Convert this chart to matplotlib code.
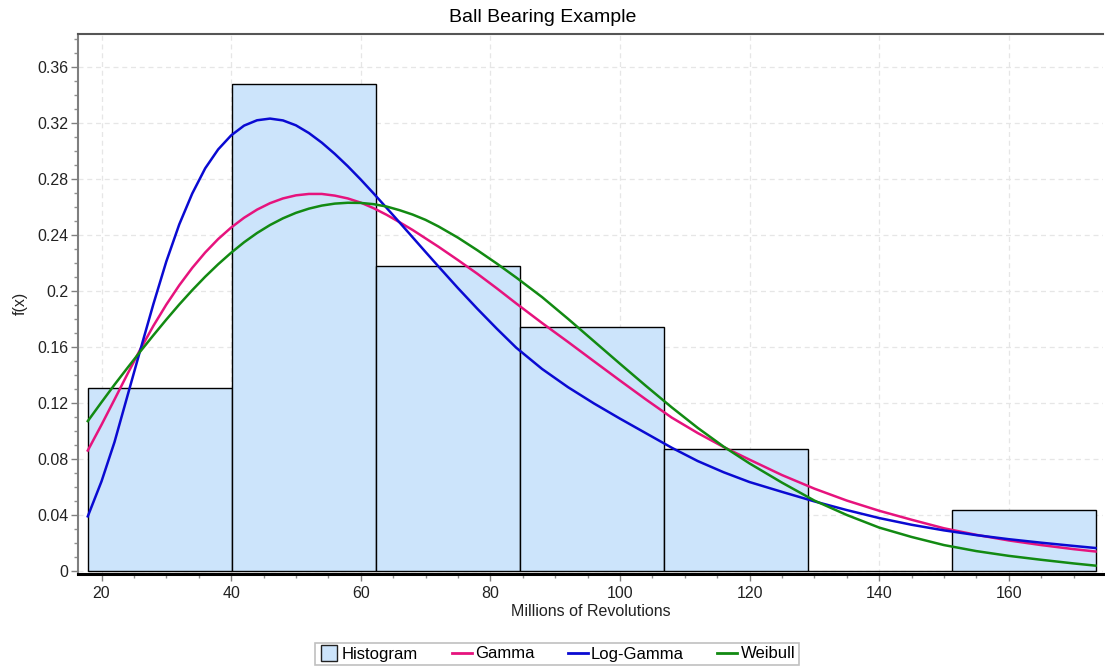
import matplotlib
matplotlib.use('Agg')
import matplotlib.pyplot as plt
from matplotlib.lines import Line2D
from matplotlib.ticker import MultipleLocator

plt.rcParams['font.family'] = ['Liberation Sans', 'DejaVu Sans']

# histogram of the bearing lifetimes (relative frequency per bin)
bin_edges = [17.88, 40.10, 62.31, 84.53, 106.75, 128.97, 151.18, 173.40]
hist_heights = [0.1304, 0.3478, 0.2174, 0.1739, 0.0870, 0.0, 0.0435]

# fitted densities, scaled to the histogram
x_fit = [17.88, 20, 22, 24, 26, 28, 30, 32, 34, 36, 38, 40, 42, 44, 46, 48, 50,
         52, 54, 56, 58, 60, 62, 64, 66, 68, 70, 72, 75, 78, 81, 84, 88, 92, 96,
         100, 104, 108, 112, 116, 120, 125, 130, 135, 140, 145, 150, 155, 160,
         165, 170, 173.4]
gamma_fit = [0.0860, 0.1044, 0.1224, 0.1406, 0.1584, 0.1750, 0.1902, 0.2040, 0.2164,
             0.2274, 0.2370, 0.2452, 0.2522, 0.2580, 0.2626, 0.2660, 0.2682, 0.2692,
             0.2692, 0.2680, 0.2660, 0.2630, 0.2590, 0.2543, 0.2490, 0.2435, 0.2375,
             0.2315, 0.2220, 0.2122, 0.2018, 0.1910, 0.1770, 0.1635, 0.1497, 0.1360,
             0.1225, 0.1095, 0.0985, 0.0885, 0.0795, 0.0685, 0.0588, 0.0503, 0.0430,
             0.0366, 0.0305, 0.0258, 0.0218, 0.0185, 0.0156, 0.0139]
loggamma_fit = [0.0390, 0.0640, 0.0920, 0.1250, 0.1580, 0.1905, 0.2210, 0.2475,
                0.2695, 0.2875, 0.3010, 0.3110, 0.3180, 0.3218, 0.3230, 0.3217,
                0.3182, 0.3127, 0.3058, 0.2978, 0.2890, 0.2795, 0.2695, 0.2592,
                0.2488, 0.2383, 0.2278, 0.2174, 0.2020, 0.1872, 0.1730, 0.1594,
                0.1442, 0.1312, 0.1196, 0.1088, 0.0984, 0.0880, 0.0785, 0.0705,
                0.0635, 0.0565, 0.0497, 0.0435, 0.0378, 0.0330, 0.0290, 0.0256,
                0.0227, 0.0202, 0.0179, 0.0164]
weibull_fit = [0.1070, 0.1205, 0.1330, 0.1450, 0.1568, 0.1683, 0.1795, 0.1903, 0.2005,
               0.2101, 0.2190, 0.2272, 0.2347, 0.2413, 0.2470, 0.2518, 0.2557, 0.2587,
               0.2609, 0.2623, 0.2629, 0.2628, 0.2619, 0.2602, 0.2576, 0.2545, 0.2507,
               0.2460, 0.2380, 0.2290, 0.2195, 0.2095, 0.1955, 0.1800, 0.1640, 0.1480,
               0.1322, 0.1168, 0.1022, 0.0888, 0.0768, 0.0631, 0.0503, 0.0400, 0.0310,
               0.0243, 0.0185, 0.0142, 0.0108, 0.0080, 0.0054, 0.0038]

bar_color = '#cce4fb'
gamma_color = '#e6137d'
loggamma_color = '#0a0ad2'
weibull_color = '#128a12'

fig = plt.figure(figsize=(11.05, 6.69), dpi=100)
ax = fig.add_axes([78 / 1105, 1 - 573.5 / 669, 1025 / 1105, 539.5 / 669])

lefts = bin_edges[:-1]
widths = [b - a for a, b in zip(bin_edges[:-1], bin_edges[1:])]
ax.bar(lefts, hist_heights, width=widths, align='edge', color=bar_color,
       edgecolor='black', linewidth=1.0, zorder=2)

ax.plot(x_fit, gamma_fit, color=gamma_color, lw=1.8, zorder=3)
ax.plot(x_fit, loggamma_fit, color=loggamma_color, lw=1.8, zorder=3)
ax.plot(x_fit, weibull_fit, color=weibull_color, lw=1.8, zorder=3)

ax.set_xlim(16.37, 174.55)
ax.set_ylim(-0.0018, 0.3834)
ax.xaxis.set_minor_locator(MultipleLocator(5))
ax.yaxis.set_minor_locator(MultipleLocator(0.01))
ax.set_yticks([0, 0.04, 0.08, 0.12, 0.16, 0.2, 0.24, 0.28, 0.32, 0.36])
ax.set_yticklabels(['0', '0.04', '0.08', '0.12', '0.16', '0.2', '0.24', '0.28',
                    '0.32', '0.36'])
ax.set_xticks([20, 40, 60, 80, 100, 120, 140, 160])

ax.tick_params(which='major', length=5, width=1, color='#808080',
               labelsize=11.5, labelcolor='#222222', pad=2)
ax.tick_params(which='minor', length=3, width=1, color='#909090')
ax.tick_params(axis='x', which='major', pad=4)

ax.set_axisbelow(True)
ax.grid(True, which='major', linestyle=(0, (4, 3)), color='#e6e6e6', linewidth=0.9)

ax.spines['right'].set_visible(False)
ax.spines['left'].set_color('#7f7f7f')
ax.spines['left'].set_linewidth(1.5)
ax.spines['top'].set_color('#555555')
ax.spines['top'].set_linewidth(1.5)
ax.spines['bottom'].set_color('black')
ax.spines['bottom'].set_linewidth(2.2)

ax.set_xlabel('Millions of Revolutions', fontsize=11.5, color='#222222', labelpad=2)
ax.set_ylabel('f(x)', fontsize=11.5, color='#222222', labelpad=7)
fig.text(543 / 1105, 1 - 18 / 669, 'Ball Bearing Example', ha='center', va='center',
         fontsize=14, color='black')

handles = [
    Line2D([], [], linestyle='none', marker='s', markersize=12,
           markerfacecolor=bar_color, markeredgecolor='#222222', markeredgewidth=1),
    Line2D([], [], color=gamma_color, lw=2),
    Line2D([], [], color=loggamma_color, lw=2),
    Line2D([], [], color=weibull_color, lw=2),
]
leg = fig.legend(handles, ['Histogram', 'Gamma', 'Log-Gamma', 'Weibull'],
                 loc='center', bbox_to_anchor=(557 / 1105, 1 - 654 / 669), ncol=4,
                 fontsize=12, frameon=True, fancybox=False, handlelength=1.2,
                 handletextpad=0.2, columnspacing=2.0, borderpad=0.2,
                 borderaxespad=0)
leg.get_frame().set_edgecolor('#b0b0b0')
leg.get_frame().set_linewidth(1.2)

fig.savefig('out.png', dpi=100)
